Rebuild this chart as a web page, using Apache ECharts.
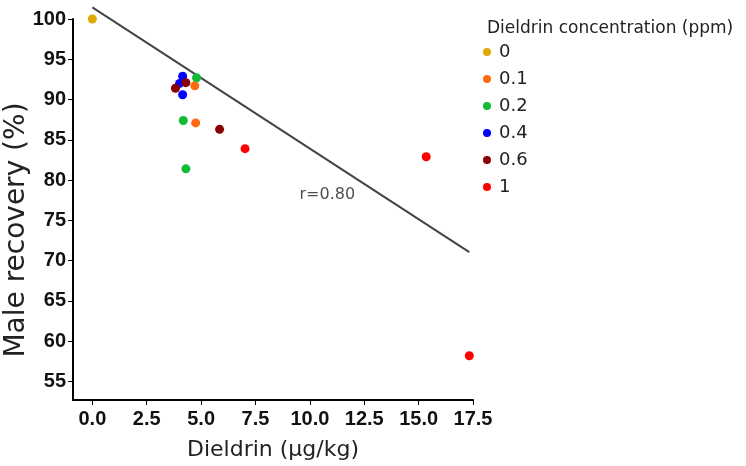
<!DOCTYPE html>
<html>
<head>
<meta charset="utf-8">
<script src="https://cdn.jsdelivr.net/npm/echarts@6/dist/echarts.min.js"></script>
<style>html,body{margin:0;padding:0;background:#fff}#c{width:746px;height:466px}</style>
</head>
<body>
<div id="c"></div>
<script>
const groups = ['0', '0.1', '0.2', '0.4', '0.6', '1'];
const colors = ['#DDAA00', '#FF6A10', '#11BB33', '#0000FF', '#880000', '#FF0000'];
const g0 = [[0.0, 100.0]];
const g01 = [[4.71, 91.7], [4.75, 87.1]];
const g02 = [[4.79, 92.7], [4.18, 87.4], [4.30, 81.4]];
const g04 = [[4.15, 92.9], [4.01, 92.0], [4.15, 90.6]];
const g06 = [[3.82, 91.4], [4.30, 92.1], [5.85, 86.3]];
const g1 = [[7.02, 83.9], [15.35, 82.9], [17.33, 58.2]];
const fitLine = [[0.0, 101.45], [17.33, 71.05]];
const xTicks = [0, 2.5, 5, 7.5, 10, 12.5, 15, 17.5];
const yTicks = [55, 60, 65, 70, 75, 80, 85, 90, 95, 100];
const rLabel = 'r=0.80';
const rPos = [10.8, 78.2];
const yTitle = 'Male recovery (%)';

const seriesData = [g0, g01, g02, g04, g06, g1];
const chart = echarts.init(document.getElementById('c'));
const series = seriesData.map((d, i) => ({
  name: groups[i], type: 'scatter', data: d, symbolSize: 9,
  itemStyle: { color: colors[i], opacity: 1 }, z: 3
}));
series.push({
  name: 'fit', type: 'line', data: fitLine, symbol: 'none', clip: false,
  lineStyle: { color: '#444', width: 2 }, z: 2, silent: true
});
series.push({
  name: 'rtext', type: 'scatter', data: [rPos], symbolSize: 0,
  label: { show: true, formatter: rLabel, position: 'inside', fontFamily: 'DejaVu Sans', fontSize: 16, color: '#222' },
  silent: true
});
chart.setOption({
  animation: false,
  backgroundColor: '#fff',
  grid: { left: 73, right: 273, top: 19, bottom: 66, outerBoundsMode: 'none', containLabel: false },
  title: {
    text: 'Dieldrin concentration (ppm)', left: 482, top: 15,
    textStyle: { fontFamily: 'DejaVu Sans', fontSize: 17, fontWeight: 'normal', color: '#222' }
  },
  legend: {
    data: groups, orient: 'vertical', left: 478, top: 38,
    icon: 'circle', itemWidth: 14, itemHeight: 8, itemGap: 9,
    textStyle: { fontFamily: 'DejaVu Sans', fontSize: 18, color: '#222' }
  },
  graphic: [{
    type: 'text', x: 17, y: 230, rotation: Math.PI / 2,
    style: { text: yTitle, fontFamily: 'DejaVu Sans', fontSize: 28, fill: '#222', align: 'center', verticalAlign: 'middle' }
  }],
  xAxis: {
    type: 'value', min: -0.89, max: 17.5,
    name: 'Dieldrin (µg/kg)', nameLocation: 'middle', nameGap: 39,
    nameTextStyle: { fontFamily: 'DejaVu Sans', fontSize: 22, color: '#222' },
    axisLine: { show: true, onZero: false, lineStyle: { color: '#000', width: 2 } },
    axisTick: { show: true, customValues: xTicks, length: 5, lineStyle: { color: '#000', width: 1 } },
    axisLabel: { customValues: xTicks, formatter: v => v.toFixed(1), fontFamily: 'Liberation Sans', fontWeight: 'bold', fontSize: 20, color: '#111', margin: 9 },
    splitLine: { show: false }
  },
  yAxis: {
    type: 'value', min: 52.7, max: 100,
    axisLine: { show: true, onZero: false, lineStyle: { color: '#000', width: 2 } },
    axisTick: { show: true, customValues: yTicks, length: 5, lineStyle: { color: '#000', width: 1 } },
    axisLabel: { customValues: yTicks, fontFamily: 'Liberation Sans', fontWeight: 'bold', fontSize: 20, color: '#111', margin: 7 },
    splitLine: { show: false }
  },
  series: series
});
</script>
</body>
</html>
